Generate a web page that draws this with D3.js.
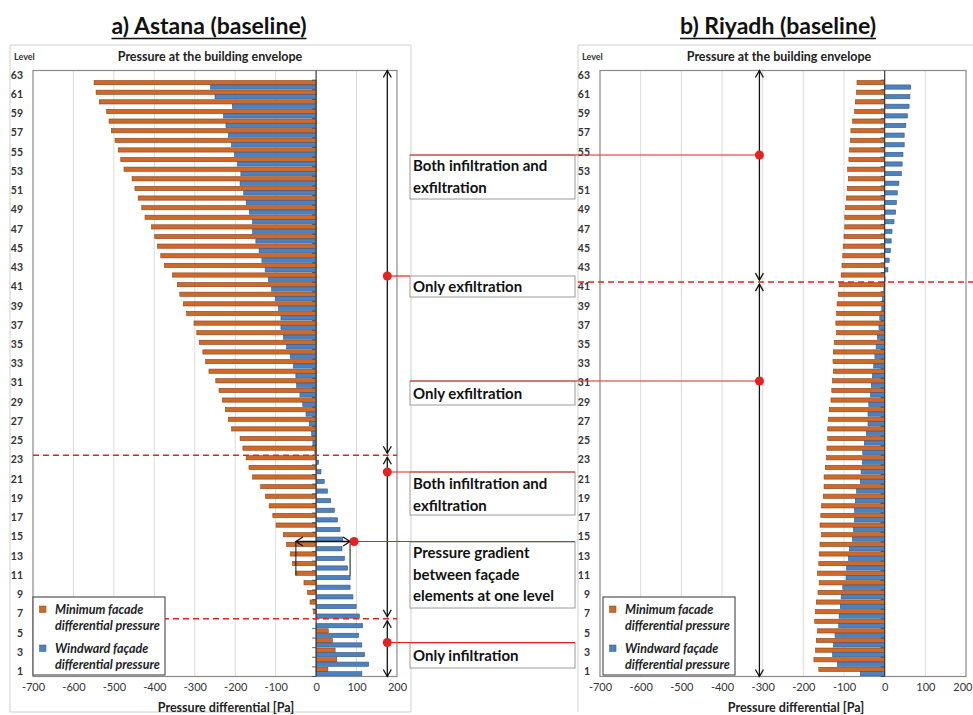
<!DOCTYPE html>
<html>
<head>
<meta charset="utf-8">
<script src="https://cdn.jsdelivr.net/npm/d3@7"></script>
<style>
  body { margin: 0; background: #fff; }
  svg { display: block; }
  text { font-family: Lato, "Open Sans", "DejaVu Sans", sans-serif; }
</style>
</head>
<body>
<svg id="chart" width="973" height="715"></svg>
<script>
// Building levels (category axis) and the labelled ones
const levels = [1,2,3,4,5,6,7,8,9,10,11,12,13,14,15,16,17,18,19,20,21,22,23,24,25,26,27,28,29,30,
  31,32,33,34,35,36,37,38,39,40,41,42,43,44,45,46,47,48,49,50,51,52,53,54,55,56,57,58,59,60,61,62,63];
const levelTicks = [1,3,5,7,9,11,13,15,17,19,21,23,25,27,29,31,33,35,37,39,41,43,45,47,49,51,53,55,57,59,61,63];
const pressureTicks = [-700,-600,-500,-400,-300,-200,-100,0,100,200];

// Pressure differential [Pa] for levels 1..62 (level 63 has no value)
const astanaMinimum = [29,51,47,40,30,0,-6,-15,-21,-30,
  -50,-58,-64,-73,-81,-99,-107,-116,-125,-137,
  -157,-166,-173,-181,-188,-209,-217,-224,-232,-240,
  -248,-265,-273,-280,-289,-295,-302,-320,-328,-337,
  -343,-355,-375,-384,-392,-399,-407,-423,-431,-440,
  -448,-455,-475,-483,-489,-497,-506,-512,-518,-536,
  -544,-549];
const astanaWindward = [113,130,120,113,105,115,107,99,91,84,
  84,78,70,64,66,59,53,45,36,28,
  20,12,6,-3,-8,-11,-17,-25,-33,-40,
  -48,-50,-56,-64,-73,-81,-87,-87,-93,-101,
  -110,-118,-126,-134,-141,-149,-157,-157,-165,-173,
  -179,-188,-186,-195,-202,-209,-217,-223,-229,-207,
  -250,-261];
const riyadhMinimum = [-162,-174,-170,-168,-165,-172,-170,-168,-164,-161,
  -165,-162,-161,-159,-155,-159,-157,-155,-151,-149,
  -149,-146,-143,-142,-140,-140,-138,-136,-132,-130,
  -128,-126,-127,-126,-124,-118,-120,-118,-117,-114,
  -112,-107,-105,-103,-102,-100,-98,-98,-96,-94,
  -92,-89,-91,-88,-86,-84,-83,-79,-74,-72,
  -69,-68];
const riyadhWindward = [-60,-116,-128,-126,-122,-113,-112,-109,-107,-103,
  -95,-94,-89,-87,-79,-77,-74,-74,-72,-69,
  -60,-58,-55,-54,-50,-45,-41,-41,-39,-35,
  -33,-30,-27,-24,-21,-18,-14,-12,-7,-5,
  -2,1,8,11,14,16,18,23,27,29,
  31,35,41,43,45,48,48,52,56,60,
  62,64];

const seriesNames = [["Minimum facade", "differential pressure"], ["Windward façade", "differential pressure"]];
const COLORS = { min: "#CD6A2B", minEdge: "#8A4214", wind: "#4F81BD", windEdge: "#2F5686" };
const RED = "#E3241E";
const W = 973;

const svg = d3.select("#chart");

function drawPanel(cfg) {
  const g = svg.append("g");
  const x = d3.scaleLinear().domain([-700, 200]).range([cfg.left, cfg.right]);
  const y = d3.scaleBand().domain(levels.slice().reverse()).range([cfg.top, cfg.bottom]).padding(0);
  const bw = y.bandwidth();

  // chart area border
  g.append("path")
    .attr("d", cfg.areaPath)
    .attr("fill", "none").attr("stroke", "#cfcfcf").attr("stroke-width", 1);

  // titles
  const t = g.append("text").attr("x", cfg.titleX).attr("y", 34)
    .attr("text-anchor", "middle").attr("font-size", 23).attr("font-weight", 700)
    .attr("fill", "#111").text(cfg.title);
  const tl = t.node().getComputedTextLength();
  g.append("line").attr("x1", cfg.titleX - tl / 2).attr("x2", cfg.titleX + tl / 2)
    .attr("y1", 38.5).attr("y2", 38.5).attr("stroke", "#111").attr("stroke-width", 1.6);

  g.append("text").attr("x", cfg.areaLeft + 4).attr("y", 60).attr("font-size", 9)
    .attr("font-weight", 700).attr("fill", "#333").text("Level");
  g.append("text").attr("x", cfg.envX).attr("y", 61).attr("text-anchor", "middle")
    .attr("font-size", 12.5).attr("font-weight", 700).attr("fill", "#222")
    .text("Pressure at the building envelope");

  // vertical gridlines
  g.selectAll("line.grid").data(pressureTicks.filter(v => v > -700 && v < 200 && v !== 0))
    .join("line").attr("class", "grid")
    .attr("x1", d => x(d)).attr("x2", d => x(d))
    .attr("y1", cfg.top).attr("y2", cfg.bottom)
    .attr("stroke", "#dcdcdc").attr("stroke-width", 1);

  const rows = cfg.minimum.map((v, i) => ({ level: levels[i], min: v, wind: cfg.windward[i] }));

  g.selectAll("rect.min").data(rows).join("rect").attr("class", "min")
    .attr("x", d => Math.min(x(0), x(d.min))).attr("width", d => Math.abs(x(d.min) - x(0)))
    .attr("y", d => y(d.level) + bw * 0.04).attr("height", bw * 0.44)
    .attr("fill", COLORS.min).attr("stroke", COLORS.minEdge).attr("stroke-width", 0.6);

  g.selectAll("rect.wind").data(rows).join("rect").attr("class", "wind")
    .attr("x", d => Math.min(x(0), x(d.wind))).attr("width", d => Math.abs(x(d.wind) - x(0)))
    .attr("y", d => y(d.level) + bw * 0.5).attr("height", bw * 0.44)
    .attr("fill", COLORS.wind).attr("stroke", COLORS.windEdge).attr("stroke-width", 0.6);

  // plot frame
  g.append("rect").attr("x", cfg.left).attr("y", cfg.top)
    .attr("width", cfg.right - cfg.left).attr("height", cfg.bottom - cfg.top)
    .attr("fill", "none").attr("stroke", "#8a8a8a").attr("stroke-width", 1.2);

  // category axis at zero with outside ticks between levels
  g.append("line").attr("x1", x(0)).attr("x2", x(0)).attr("y1", cfg.top).attr("y2", cfg.bottom)
    .attr("stroke", "#3a3a3a").attr("stroke-width", 1.2);
  g.selectAll("line.ctick").data(levels).join("line").attr("class", "ctick")
    .attr("x1", x(0) - 4).attr("x2", x(0))
    .attr("y1", d => y(d) + bw).attr("y2", d => y(d) + bw)
    .attr("stroke", "#3a3a3a").attr("stroke-width", 0.8);

  // level labels
  const ya = g.append("g").attr("transform", `translate(${cfg.left},0)`)
    .call(d3.axisLeft(y).tickValues(levelTicks).tickSize(0).tickPadding(10));
  ya.select(".domain").remove();
  ya.selectAll("text").attr("font-size", 10.5).attr("font-weight", 700)
    .attr("fill", "#333").attr("font-family", "Lato, 'Open Sans', sans-serif");

  // pressure axis
  const xa = g.append("g").attr("transform", `translate(0,${cfg.bottom})`)
    .call(d3.axisBottom(x).tickValues(pressureTicks).tickSize(0).tickPadding(7).tickFormat(d => String(d)));
  xa.select(".domain").remove();
  xa.selectAll("text").attr("font-size", 11).attr("fill", "#333")
    .attr("font-family", "Lato, 'Open Sans', sans-serif");
  // keep the last label inside the page
  xa.selectAll("text").each(function (d) {
    const w = this.getComputedTextLength();
    if (x(d) + w / 2 > W - 1) d3.select(this).attr("text-anchor", "end").attr("x", W - 1 - x(d));
  });

  g.append("text").attr("x", cfg.xTitleX).attr("y", 712).attr("text-anchor", "middle")
    .attr("font-size", 12.5).attr("font-weight", 700).attr("fill", "#222")
    .text("Pressure differential [Pa]");

  return { g, x, y, bw };
}

function drawLegend(lx) {
  const box = svg.append("g").attr("transform", `translate(${lx},597)`);
  box.append("rect").attr("width", 132).attr("height", 78)
    .attr("fill", "#fff").attr("stroke", "#555").attr("stroke-width", 1.2);
  [[COLORS.min, COLORS.minEdge], [COLORS.wind, COLORS.windEdge]].forEach((c, i) => {
    const oy = i * 39;
    box.append("rect").attr("x", 6.5).attr("y", 9 + oy).attr("width", 6.5).attr("height", 6.5)
      .attr("fill", c[0]).attr("stroke", c[1]).attr("stroke-width", 0.5);
    seriesNames[i].forEach((s, j) => {
      box.append("text").attr("x", 22).attr("y", 16.5 + oy + j * 16.5)
        .attr("font-size", 12.5).attr("font-weight", 700).attr("font-style", "italic")
        .attr("fill", "#222").text(s);
    });
  });
}

function vArrow(g, x, y1, y2) {
  g.append("line").attr("x1", x).attr("x2", x).attr("y1", y1).attr("y2", y2)
    .attr("stroke", "#111").attr("stroke-width", 1.3);
  g.append("path").attr("d", `M${x - 4},${y1 + 7}L${x},${y1}L${x + 4},${y1 + 7}`)
    .attr("fill", "none").attr("stroke", "#111").attr("stroke-width", 1.3);
  g.append("path").attr("d", `M${x - 4},${y2 - 7}L${x},${y2}L${x + 4},${y2 - 7}`)
    .attr("fill", "none").attr("stroke", "#111").attr("stroke-width", 1.3);
}

function dashed(g, x1, x2, yy) {
  g.append("line").attr("x1", x1).attr("x2", x2).attr("y1", yy).attr("y2", yy)
    .attr("stroke", RED).attr("stroke-width", 1.5).attr("stroke-dasharray", "6,4");
}

function callout(g, cx, cy, x2) {
  g.append("line").attr("x1", cx).attr("x2", x2).attr("y1", cy).attr("y2", cy)
    .attr("stroke", RED).attr("stroke-width", 1.2);
  g.append("circle").attr("cx", cx).attr("cy", cy).attr("r", 4.5).attr("fill", RED);
}

function textBox(g, y0, h, lines, baseline0) {
  g.append("rect").attr("x", 410).attr("y", y0).attr("width", 165).attr("height", h)
    .attr("fill", "#fff").attr("stroke", "#9a9a9a").attr("stroke-width", 1);
  lines.forEach((s, i) => {
    g.append("text").attr("x", 413).attr("y", baseline0 + i * 21.5)
      .attr("font-size", 15).attr("font-weight", 700).attr("fill", "#111").text(s);
  });
}

const A = drawPanel({
  title: "a) Astana (baseline)", titleX: 209, envX: 210, xTitleX: 226,
  left: 33, right: 397, top: 70.5, bottom: 676.5, areaLeft: 10,
  areaPath: "M10,45H411V712H10Z",
  minimum: astanaMinimum, windward: astanaWindward
});
const R = drawPanel({
  title: "b) Riyadh (baseline)", titleX: 778, envX: 779, xTitleX: 796,
  left: 600, right: 966, top: 70.5, bottom: 676.5, areaLeft: 578,
  areaPath: "M973,45H578V712",
  minimum: riyadhMinimum, windward: riyadhWindward
});

const ann = svg.append("g");

// zone boundaries
const aUpper = A.y(23), aLower = A.y(6), rBound = R.y(41);
dashed(ann, 33, 397, aUpper);
dashed(ann, 33, 397, aLower);
dashed(ann, 578, 973, rBound);

// zone arrows
const ax = A.x(176);
vArrow(ann, ax, 70.5, aUpper - 2);
vArrow(ann, ax, aUpper + 2, aLower - 2);
vArrow(ann, ax, aLower + 2, 676.5);
const rx = R.x(-308);
vArrow(ann, rx, 70.5, rBound - 2);
vArrow(ann, rx, rBound + 2, 676.5);

// pressure gradient at one level (level 11)
const gy = 541.5;
const gl = A.x(astanaMinimum[10]), gr = A.x(astanaWindward[10]);
const gc = A.y(11) + A.bw / 2;
ann.append("line").attr("x1", gl).attr("x2", gr).attr("y1", gy).attr("y2", gy)
  .attr("stroke", "#111").attr("stroke-width", 1.3);
ann.append("path").attr("d", `M${gl + 7},${gy - 4.5}L${gl},${gy}L${gl + 7},${gy + 4.5}`)
  .attr("fill", "none").attr("stroke", "#111").attr("stroke-width", 1.3);
ann.append("path").attr("d", `M${gr - 7},${gy - 4.5}L${gr},${gy}L${gr - 7},${gy + 4.5}`)
  .attr("fill", "none").attr("stroke", "#111").attr("stroke-width", 1.3);
ann.append("path").attr("d", `M${gl},${gy}V${gc}M${gr},${gy + 2}V${gc}`)
  .attr("fill", "none").attr("stroke", "#111").attr("stroke-width", 1);

// explanation boxes
textBox(ann, 155, 44, ["Both infiltration and", "exfiltration"], 171);
textBox(ann, 276, 21, ["Only exfiltration"], 292);
textBox(ann, 381, 24, ["Only exfiltration"], 399);
textBox(ann, 472, 43, ["Both infiltration and", "exfiltration"], 489);
textBox(ann, 542, 66, ["Pressure gradient", "between façade", "elements at one level"], 558);
textBox(ann, 643, 25, ["Only infiltration"], 661);

// callout lines with markers
callout(ann, rx, 155, 410);
callout(ann, rx, 381, 410);
callout(ann, ax, 276, 410);
callout(ann, ax, 472, 575);
callout(ann, gr + 4, gy, 575);
callout(ann, ax, 642.5, 575);

drawLegend(33);
drawLegend(603);
</script>
</body>
</html>
